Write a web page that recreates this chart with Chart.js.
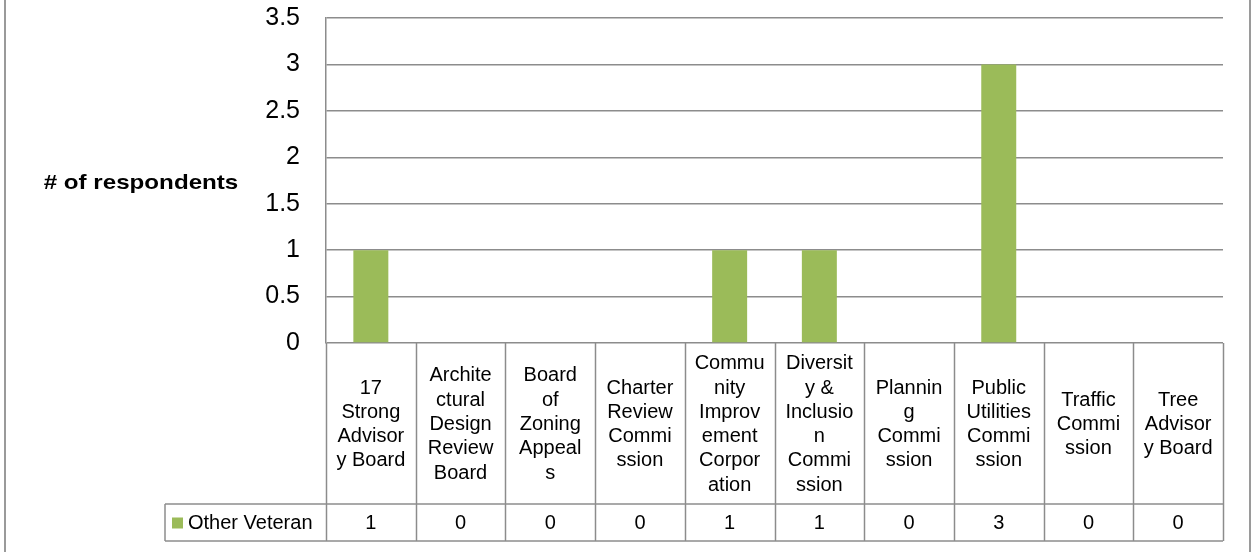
<!DOCTYPE html>
<html>
<head>
<meta charset="utf-8">
<script src="https://cdn.jsdelivr.net/npm/chart.js@4.4.0/dist/chart.umd.min.js"></script>
<style>
html, body { margin: 0; padding: 0; background: #fff; }
</style>
</head>
<body>
<canvas id="chart" width="1252" height="552"></canvas>
<script>
// category labels, wrapped the way the original table wraps them
const categories = [
    ["17", "Strong", "Advisor", "y Board"],
    ["Archite", "ctural", "Design", "Review", "Board"],
    ["Board", "of", "Zoning", "Appeal", "s"],
    ["Charter", "Review", "Commi", "ssion"],
    ["Commu", "nity", "Improv", "ement", "Corpor", "ation"],
    ["Diversit", "y &", "Inclusio", "n", "Commi", "ssion"],
    ["Plannin", "g", "Commi", "ssion"],
    ["Public", "Utilities", "Commi", "ssion"],
    ["Traffic", "Commi", "ssion"],
    ["Tree", "Advisor", "y Board"]
];
const seriesName = "Other Veteran";
const otherVeteran = [1, 0, 0, 0, 1, 1, 0, 3, 0, 0];
const yTitle = "# of respondents";

const green = "#9BBB59";
const lineGray = "#8c8c8c";

// draws the data table under the plot, the axis title and the frame
const tablePlugin = {
    id: "dataTable",
    afterDraw(chart) {
        const ctx = chart.ctx;
        const x = chart.scales.x;
        const area = chart.chartArea;
        const n = chart.data.labels.length;
        const step = (area.right - area.left) / n;
        const top = area.bottom;
        const rowTop = top + 161;
        const rowBottom = rowTop + 37;
        const legendLeft = 165;

        function line(x1, y1, x2, y2) {
            ctx.beginPath();
            ctx.moveTo(x1, y1);
            ctx.lineTo(x2, y2);
            ctx.stroke();
        }

        ctx.save();
        ctx.strokeStyle = lineGray;
        ctx.lineWidth = 1.5;
        line(legendLeft, rowTop, area.right, rowTop);
        line(legendLeft, rowBottom, area.right, rowBottom);
        line(legendLeft, rowTop, legendLeft, rowBottom);
        for (let i = 0; i <= n; i++) {
            const px = Math.round(x.getPixelForValue(0) - step / 2 + i * step) + 0.5;
            line(px, top, px, rowBottom);
        }

        // category labels
        ctx.fillStyle = "#000";
        ctx.font = "20px 'Liberation Sans', Arial, sans-serif";
        ctx.textAlign = "center";
        ctx.textBaseline = "middle";
        const lh = 24.3;
        chart.data.labels.forEach((lab, i) => {
            const cx = x.getPixelForValue(i);
            const y0 = (top + rowTop) / 2 + 1 - (lab.length - 1) * lh / 2;
            lab.forEach((t, j) => ctx.fillText(t, cx, y0 + j * lh));
        });

        // values row
        const ds = chart.data.datasets[0];
        const midRow = (rowTop + rowBottom) / 2 + 1;
        ds.data.forEach((v, i) => ctx.fillText(String(v), x.getPixelForValue(i), midRow));

        // legend cell
        ctx.fillStyle = ds.backgroundColor;
        ctx.fillRect(172, midRow - 6, 11, 11);
        ctx.fillStyle = "#000";
        ctx.textAlign = "left";
        ctx.fillText(ds.label, 188, midRow);

        // horizontal y-axis title, a little stretched like the original
        ctx.save();
        ctx.translate(141, (area.top + area.bottom) / 2 + 3);
        ctx.scale(1.15, 1);
        ctx.font = "bold 21px 'Liberation Sans', Arial, sans-serif";
        ctx.textAlign = "center";
        ctx.fillText(yTitle, 0, 0);
        ctx.restore();

        // chart frame sides
        ctx.strokeStyle = "#9a9a9a";
        ctx.lineWidth = 2;
        line(5, 0, 5, chart.height);
        line(1250, 0, 1250, chart.height);
        ctx.restore();
    }
};

new Chart(document.getElementById("chart"), {
    type: "bar",
    data: {
        labels: categories,
        datasets: [{
            label: seriesName,
            data: otherVeteran,
            backgroundColor: green,
            barPercentage: 0.39,
            categoryPercentage: 1
        }]
    },
    options: {
        responsive: false,
        animation: false,
        devicePixelRatio: 1,
        layout: { padding: { top: 18, right: 29, left: 0, bottom: 0 } },
        plugins: { legend: { display: false }, tooltip: { enabled: false } },
        scales: {
            x: {
                ticks: { display: false },
                grid: { display: false, drawTicks: false },
                border: { display: false },
                afterFit(scale) { scale.height = 209; }
            },
            y: {
                min: 0,
                max: 3.5,
                ticks: {
                    stepSize: 0.5,
                    color: "#000",
                    padding: 26,
                    font: { family: "'Liberation Sans', Arial, sans-serif", size: 25 },
                    callback: v => String(v)
                },
                grid: { color: lineGray, lineWidth: 1.5, drawTicks: false },
                border: { display: true, color: lineGray, width: 1.5 },
                afterFit(scale) {
                    scale.width = 326;
                    scale.paddingTop = 0;
                    scale.paddingBottom = 0;
                }
            }
        }
    },
    plugins: [tablePlugin]
});
</script>
</body>
</html>
